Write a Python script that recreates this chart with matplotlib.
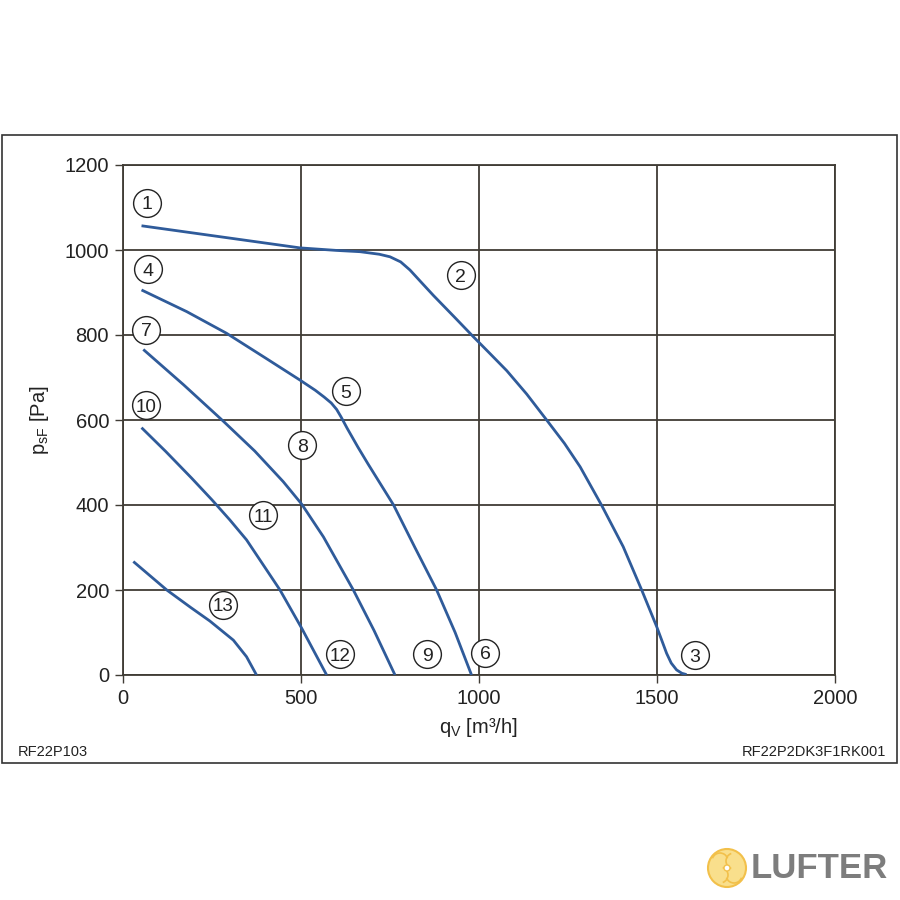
import matplotlib
matplotlib.use("Agg")
import matplotlib.pyplot as plt
from matplotlib.patches import Rectangle, Circle, Arc

plt.rcParams['font.family'] = ['Liberation Sans', 'DejaVu Sans']
plt.rcParams['mathtext.fontset'] = 'custom'
plt.rcParams['mathtext.rm'] = 'Liberation Sans'

# fan curves: airflow [m3/h], pressure [Pa]
q_1_3 = [52, 497, 600, 666, 720, 750, 780, 806, 840, 872, 930, 984, 1030, 1078,
         1134, 1190, 1240, 1284, 1344, 1405, 1457, 1499, 1515, 1527, 1540, 1555, 1570, 1583]
p_1_3 = [1057, 1005, 999, 996, 990, 984, 972, 953, 922, 893, 843, 796, 757, 716,
         661, 600, 545, 490, 400, 302, 200, 114, 78, 51, 28, 12, 4, 1]

q_4_6 = [52, 179, 291, 400, 497, 540, 565, 585, 600, 612, 630, 660, 688, 760, 820, 881, 933, 979]
p_4_6 = [906, 855, 804, 746, 694, 670, 654, 640, 625, 608, 580, 536, 497, 400, 300, 200, 100, 0]

q_7_9 = [57, 170, 282, 370, 450, 502, 563, 647, 705, 764]
p_7_9 = [766, 683, 597, 527, 455, 402, 325, 200, 105, 0]

q_10_12 = [52, 120, 193, 250, 300, 347, 441, 502, 572]
p_10_12 = [582, 526, 463, 412, 365, 318, 200, 110, 0]

q_13 = [29, 123, 190, 244, 310, 347, 375]
p_13 = [267, 200, 159, 127, 82, 43, 0]

curves = [(q_1_3, p_1_3), (q_4_6, p_4_6), (q_7_9, p_7_9), (q_10_12, p_10_12), (q_13, p_13)]

# circled operating point labels
label_txt = ['1', '2', '3', '4', '5', '6', '7', '8', '9', '10', '11', '12', '13']
label_q = [67, 949, 1607, 70, 626, 1017, 65, 503, 854, 65, 393, 610, 281]
label_p = [1111, 941, 47, 955, 668, 52, 812, 541, 49, 635, 376, 49, 165]

grid_col = '#403c35'
blue = '#2f5b9a'

fig = plt.figure(figsize=(9, 9), dpi=100)
fig.patch.set_facecolor('white')

# outer frame
fig.add_artist(Rectangle((2 / 900, 1 - 763 / 900), 895 / 900, 628 / 900,
                         transform=fig.transFigure, fill=False,
                         edgecolor='#333333', linewidth=1.2))

ax = fig.add_axes([123 / 900, 1 - 675 / 900, 712 / 900, 510 / 900])
ax.set_xlim(0, 2000)
ax.set_ylim(0, 1200)
ax.set_xticks([0, 500, 1000, 1500, 2000])
ax.set_yticks([0, 200, 400, 600, 800, 1000, 1200])
ax.grid(True, color=grid_col, linewidth=1.3)
for s in ax.spines.values():
    s.set_color(grid_col)
    s.set_linewidth(1.3)
ax.tick_params(direction='out', length=6, width=1.0, color=grid_col,
               labelsize=14.5, pad=4, labelcolor='#222222')

for q, p in curves:
    ax.plot(q, p, color=blue, linewidth=2.0, solid_capstyle='butt',
            solid_joinstyle='round', zorder=3)

ax.scatter(label_q, label_p, s=400, facecolor='white', edgecolor='#222222',
           linewidth=1.0, zorder=4, clip_on=False)
for t, q, p in zip(label_txt, label_q, label_p):
    ax.text(q, p, t, ha='center', va='center_baseline', fontsize=14 if len(t) == 1 else 13.5,
            color='#222222', zorder=5)

ax.set_ylabel(r'p$_{\mathregular{sF}}$ [Pa]', fontsize=14.5, color='#222222', labelpad=10)
ax.set_xlabel(r'q$_{\mathregular{V}}$ [m³/h]', fontsize=14.5, color='#222222', labelpad=6)

fig.text(18 / 900, 1 - 752 / 900, 'RF22P103', fontsize=10.5, color='#222222',
         ha='left', va='center')
fig.text(886 / 900, 1 - 752 / 900, 'RF22P2DK3F1RK001', fontsize=10.5, color='#222222',
         ha='right', va='center')

# logo: yellow fan disc + name
cx, cy = 727 / 900, 1 - 868 / 900
fig.add_artist(Circle((cx, cy), 19 / 900, transform=fig.transFigure,
                      facecolor='#f9df8c', edgecolor='#f2c04a', linewidth=1.5))
for k, (dx, dy) in enumerate([(-7, 7), (7, 7), (7, -7), (-7, -7)]):
    fig.add_artist(Arc((cx + dx / 900, cy + dy / 900), 16 / 900, 16 / 900,
                       theta1=90 * k + 20, theta2=90 * k + 160, transform=fig.transFigure,
                       color='#f2c04a', linewidth=1.2))
fig.add_artist(Circle((cx, cy), 3 / 900, transform=fig.transFigure,
                      facecolor='white', edgecolor='#f2c04a', linewidth=1.0))
fig.text(751 / 900, 1 - 869 / 900, 'LUFTER', fontsize=25, fontweight='bold',
         color='#7d7d7d', ha='left', va='center')

fig.savefig('out.png', dpi=100)
